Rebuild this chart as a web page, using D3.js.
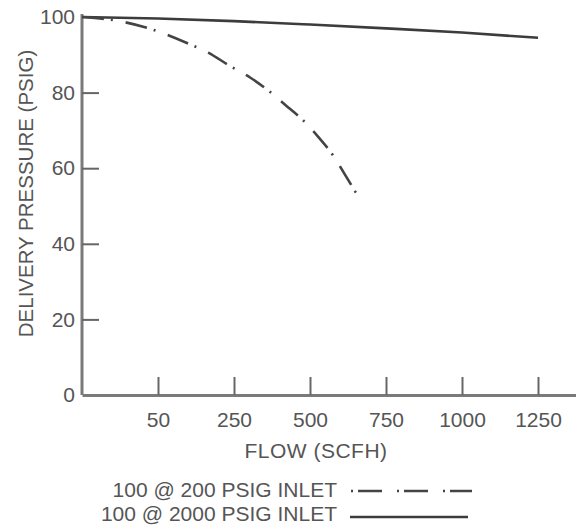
<!DOCTYPE html>
<html>
<head>
<meta charset="utf-8">
<script src="https://cdn.jsdelivr.net/npm/d3@7"></script>
<style>
  html, body { margin: 0; padding: 0; background: #ffffff; }
  svg { display: block; }
  text { font-family: "Liberation Sans", Arial, sans-serif; fill: #555; }
</style>
</head>
<body>
<script>
// ---- data ----
const flowTicks = [50, 250, 500, 750, 1000, 1250];
const flowTickLabels = ["50", "250", "500", "750", "1000", "1250"];
const pressureTicks = [0, 20, 40, 60, 80, 100];

const seriesNames = ["100 @ 200 PSIG INLET", "100 @ 2000 PSIG INLET"];

// 100 @ 200 PSIG inlet (dash-dot curve)
const lowInletFlow = [0, 26, 50, 129, 182, 240, 303, 362, 418, 477, 527, 575, 615, 665];
const lowInletPressure = [100, 98.8, 96.2, 93.0, 90.6, 87.0, 84.0, 80.6, 76.8, 72.7, 68.3, 63.5, 58.3, 51.6];

// 100 @ 2000 PSIG inlet (solid line)
const highInletFlow = [0, 50, 250, 500, 750, 1000, 1250];
const highInletPressure = [100, 99.6, 98.9, 98.0, 97.0, 95.9, 94.5];

// ---- layout ----
const W = 576, H = 529;
const mLeft = 82, mRight = 576, mTop = 17, mBottom = 395;

const svg = d3.select("body").append("svg")
  .attr("width", W).attr("height", H);

// x axis is evenly spaced by tick index (0, 50, 250, 500, ...)
const idx = d3.scaleLinear().domain([0, 6.5]).range([mLeft, mRight]);
const xDomain = [0, ...flowTicks, 1375];
const xRange = [...d3.range(0, flowTicks.length + 1), 6.5].map(idx);
const x = d3.scaleLinear().domain(xDomain).range(xRange);
const y = d3.scaleLinear().domain([0, 100]).range([mBottom, mTop]);

const axisColor = "#7a7a7a";

// x axis
const gx = svg.append("g")
  .attr("transform", `translate(0,${mBottom})`)
  .call(d3.axisBottom(x).tickValues(flowTicks)
    .tickFormat((d, i) => flowTickLabels[i])
    .tickSize(-18).tickSizeOuter(0).tickPadding(17));
gx.select(".domain").attr("stroke", axisColor).attr("stroke-width", 3);
gx.selectAll(".tick line").attr("stroke", "#666").attr("stroke-width", 2);
gx.selectAll(".tick text").attr("font-size", 21).attr("fill", "#555")
  .attr("font-family", "Liberation Sans, Arial, sans-serif");

// y axis
const gy = svg.append("g")
  .attr("transform", `translate(${mLeft},0)`)
  .call(d3.axisLeft(y).tickValues(pressureTicks)
    .tickSize(-17).tickSizeOuter(0).tickPadding(7));
gy.select(".domain").attr("stroke", axisColor).attr("stroke-width", 3)
  .attr("d", `M0,${mBottom}V${mTop - 3}`);
gy.selectAll(".tick line").attr("stroke", "#666").attr("stroke-width", 2)
  .filter(d => d === 0 || d === 100).remove();
gy.selectAll(".tick text").attr("font-size", 21).attr("fill", "#555")
  .attr("font-family", "Liberation Sans, Arial, sans-serif");

// axis titles
svg.append("text")
  .attr("transform", `translate(33,${(50 + 337) / 2}) rotate(-90)`)
  .attr("text-anchor", "middle")
  .attr("font-size", 20.5)
  .text("DELIVERY PRESSURE (PSIG)");

svg.append("text")
  .attr("x", 316).attr("y", 458)
  .attr("text-anchor", "middle")
  .attr("font-size", 21)
  .attr("letter-spacing", 0.5)
  .text("FLOW (SCFH)");

// lines
const line = d3.line().x(d => x(d[0])).y(d => y(d[1])).curve(d3.curveMonotoneX);

const highData = d3.zip(highInletFlow, highInletPressure);
const lowData = d3.zip(lowInletFlow, lowInletPressure);

svg.append("path")
  .datum(highData)
  .attr("d", line)
  .attr("fill", "none")
  .attr("stroke", "#3c3c3c")
  .attr("stroke-width", 2.6);

svg.append("path")
  .datum(lowData)
  .attr("d", line)
  .attr("fill", "none")
  .attr("stroke", "#444")
  .attr("stroke-width", 2.6)
  .attr("stroke-dasharray", "22,7,2,13");

// legend
const legend = svg.append("g");
legend.append("text")
  .attr("x", 337).attr("y", 497)
  .attr("text-anchor", "end").attr("font-size", 21)
  .text(seriesNames[0]);
legend.append("text")
  .attr("x", 337).attr("y", 521)
  .attr("text-anchor", "end").attr("font-size", 21)
  .text(seriesNames[1]);

legend.append("line")
  .attr("x1", 351).attr("x2", 472).attr("y1", 491).attr("y2", 491)
  .attr("stroke", "#444").attr("stroke-width", 2.6)
  .attr("stroke-dasharray", "2,5,24,15");
legend.append("line")
  .attr("x1", 350).attr("x2", 468).attr("y1", 517).attr("y2", 517)
  .attr("stroke", "#3c3c3c").attr("stroke-width", 2.6);
</script>
</body>
</html>
